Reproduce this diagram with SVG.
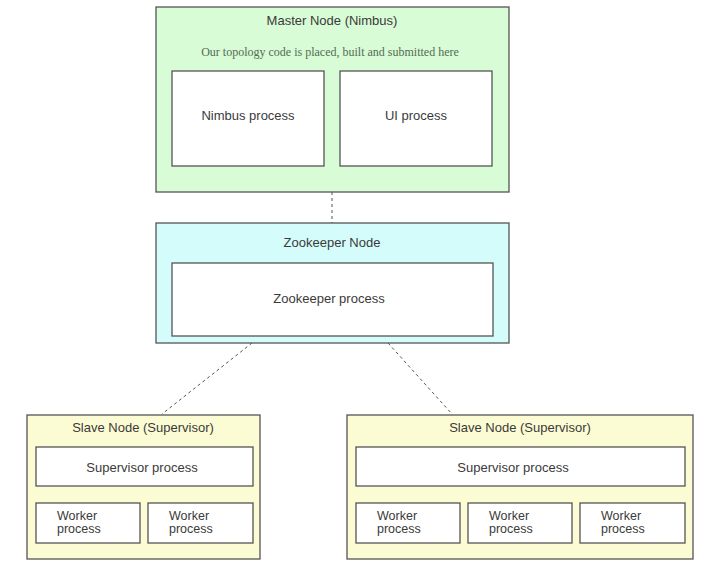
<svg xmlns="http://www.w3.org/2000/svg" width="705" height="577" viewBox="0 0 705 577">
<style>
.box{stroke:#555;stroke-width:1.3}
.inner{fill:#fff;stroke:#555;stroke-width:1.3}
.t{font-family:"Liberation Sans",Arial,sans-serif;font-size:13px;fill:#3a3a3a;text-anchor:middle}
.tl{font-family:"Liberation Sans",Arial,sans-serif;font-size:12.5px;fill:#3a3a3a}
.s{font-family:"Liberation Serif","Times New Roman",serif;font-size:12px;fill:#556b55;text-anchor:middle}
.c{stroke:#555;stroke-width:1;stroke-dasharray:3,3;fill:none}
</style>
<rect width="705" height="577" fill="#fff"/>
<g id="connectors">
<line class="c" x1="332" y1="192" x2="332" y2="223"/>
<line class="c" x1="252" y1="343" x2="162" y2="414"/>
<line class="c" x1="388" y1="343" x2="452" y2="414"/>
</g>
<g id="master">
<rect class="box" x="156" y="7" width="353" height="185" fill="#d8fcd5"/>
<text class="t" x="332" y="25">Master Node (Nimbus)</text>
<text class="s" x="330" y="56">Our topology code is placed, built and submitted here</text>
</g>
<g id="nimbus-process">
<rect class="inner" x="172" y="71" width="152" height="95"/>
<text class="t" x="248" y="120">Nimbus process</text>
</g>
<g id="ui-process">
<rect class="inner" x="340" y="71" width="152" height="95"/>
<text class="t" x="416" y="120">UI process</text>
</g>
<g id="zookeeper">
<rect class="box" x="156" y="223" width="353" height="120" fill="#d4fcfa"/>
<text class="t" x="332" y="247">Zookeeper Node</text>
</g>
<g id="zookeeper-process">
<rect class="inner" x="172" y="263" width="321" height="73"/>
<text class="t" x="329" y="303">Zookeeper process</text>
</g>
<g id="slave1">
<rect class="box" x="27" y="415" width="233" height="144" fill="#fcfcd4"/>
<text class="t" x="143" y="432">Slave Node (Supervisor)</text>
</g>
<g id="supervisor1">
<rect class="inner" x="36" y="447" width="217" height="39"/>
<text class="t" x="142" y="472">Supervisor process</text>
</g>
<g id="worker1a">
<rect class="inner" x="36" y="503" width="104" height="40"/>
<text class="tl" x="57" y="520">Worker</text>
<text class="tl" x="57" y="533">process</text>
</g>
<g id="worker1b">
<rect class="inner" x="148" y="503" width="105" height="40"/>
<text class="tl" x="169" y="520">Worker</text>
<text class="tl" x="169" y="533">process</text>
</g>
<g id="slave2">
<rect class="box" x="347" y="415" width="346" height="144" fill="#fcfcd4"/>
<text class="t" x="520" y="432">Slave Node (Supervisor)</text>
</g>
<g id="supervisor2">
<rect class="inner" x="356" y="447" width="329" height="39"/>
<text class="t" x="513" y="472">Supervisor process</text>
</g>
<g id="worker2a">
<rect class="inner" x="356" y="503" width="104" height="40"/>
<text class="tl" x="377" y="520">Worker</text>
<text class="tl" x="377" y="533">process</text>
</g>
<g id="worker2b">
<rect class="inner" x="468" y="503" width="104" height="40"/>
<text class="tl" x="489" y="520">Worker</text>
<text class="tl" x="489" y="533">process</text>
</g>
<g id="worker2c">
<rect class="inner" x="580" y="503" width="105" height="40"/>
<text class="tl" x="601" y="520">Worker</text>
<text class="tl" x="601" y="533">process</text>
</g>
</svg>
